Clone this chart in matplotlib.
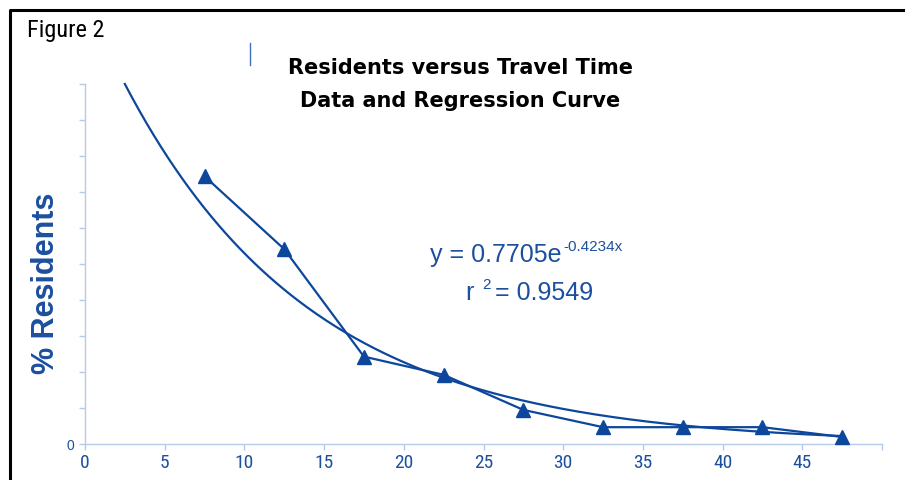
import numpy as np
import matplotlib
matplotlib.use("Agg")
import matplotlib.pyplot as plt
from matplotlib.lines import Line2D
from matplotlib import font_manager

# ---- data ----
travel_time = [7.5, 12.5, 17.5, 22.5, 27.5, 32.5, 37.5, 42.5, 47.5]
residents = [0.573, 0.417, 0.187, 0.148, 0.073, 0.036, 0.036, 0.036, 0.015]
x_ticks = [0, 5, 10, 15, 20, 25, 30, 35, 40, 45, 50]
x_tick_labels = ["0", "5", "10", "15", "20", "25", "30", "35", "40", "45", ""]
# regression: y = A * exp(B * n), n = 5-minute interval index (0 at 2.5 min)
coef_a = 0.7705
coef_b = -0.4234
r_squared = 0.9549

BLUE = "#0d479c"
TEXT_BLUE = "#1c4f9f"
SPINE = "#b7cbe9"
ARIAL = ["Liberation Sans", "DejaVu Sans"]

# pick a narrow font if one is installed
_names = {f.name for f in font_manager.fontManager.ttflist}
_narrow = None
for cand in ["Liberation Sans Narrow", "Arial Narrow", "Roboto Condensed",
             "Open Sans Condensed", "Noto Sans Condensed", "DejaVu Sans Condensed"]:
    if cand in _names:
        _narrow = cand
        break
if _narrow is None:
    _cond = [f.name for f in font_manager.fontManager.ttflist
             if str(f.stretch) in ("condensed", "semi-condensed", "extra-condensed")
             or (isinstance(f.stretch, int) and f.stretch < 500)]
    NARROW_KW = dict(family=(_cond[0] if _cond else "Liberation Sans"),
                     fontstretch="condensed")
else:
    NARROW_KW = dict(family=_narrow)

W, H = 905, 480
fig = plt.figure(figsize=(W / 100, H / 100), dpi=100)
fig.patch.set_facecolor("white")

ax = fig.add_axes([85 / W, 36 / H, (882 - 85) / W, 360 / H])
ymax = coef_a
ax.set_xlim(0, 50)
ax.set_ylim(0, ymax)

# regression curve
xc = np.linspace(2.5, 47.5, 300)
yc = coef_a * np.exp(coef_b * (xc - 2.5) / 5.0)
ax.plot(xc, yc, color=BLUE, lw=1.6, zorder=2, clip_on=False)

# data
ax.plot(travel_time, residents, color=BLUE, lw=1.6, marker="^", markersize=10,
        markeredgecolor=BLUE, markerfacecolor=BLUE, zorder=3, clip_on=False)

for s in ["top", "right"]:
    ax.spines[s].set_visible(False)
for s in ["left", "bottom"]:
    ax.spines[s].set_color(SPINE)
    ax.spines[s].set_linewidth(1.0)

ax.set_xticks(x_ticks)
ax.set_xticklabels(x_tick_labels, fontsize=14, color=TEXT_BLUE, **NARROW_KW)
yt = np.linspace(0, ymax, 11)
ax.set_yticks(yt)
ax.set_yticklabels(["0"] + [""] * 10, family=ARIAL, fontsize=10, color=TEXT_BLUE)
ax.tick_params(axis="x", direction="out", length=4, width=1, color=SPINE, pad=3.5)
ax.tick_params(axis="y", direction="out", length=4, width=1, color=SPINE, pad=4)

# border (top and left)
fig.add_artist(Line2D([10 / W, 10 / W, 1.0], [0, 1 - 10 / H, 1 - 10 / H],
                      transform=fig.transFigure, color="black", lw=2.2))
# stray small vertical line
fig.add_artist(Line2D([249.5 / W, 249.5 / W], [1 - 43 / H, 1 - 65 / H],
                      transform=fig.transFigure, color="#3f6fc0", lw=1.0))

# texts
fig.text(27 / W, 1 - 37 / H, "Figure 2", fontsize=17.5,
         color="black", va="baseline", ha="left", **NARROW_KW)
fig.text(460 / W, 1 - 74 / H, "Residents versus Travel Time", fontsize=15,
         fontweight="bold", family=["DejaVu Sans"], ha="center", va="baseline")
fig.text(460 / W, 1 - 107 / H, "Data and Regression Curve", fontsize=15,
         fontweight="bold", family=["DejaVu Sans"], ha="center", va="baseline")

fig.text(46 / W, 1 - 283 / H, "% Residents", rotation=90, fontsize=22,
         fontweight="bold", family=ARIAL, color=TEXT_BLUE, ha="center", va="center")

fig.text(430 / W, 1 - 262 / H, "y = %.4fe" % coef_a, family=ARIAL, fontsize=18,
         color=TEXT_BLUE, ha="left", va="baseline")
fig.text(563 / W, 1 - 251 / H, "%.4fx" % coef_b, family=ARIAL, fontsize=11,
         color=TEXT_BLUE, ha="left", va="baseline")
fig.text(465 / W, 1 - 300 / H, "r", family=ARIAL, fontsize=18,
         color=TEXT_BLUE, ha="left", va="baseline")
fig.text(482 / W, 1 - 289 / H, "2", family=ARIAL, fontsize=11,
         color=TEXT_BLUE, ha="left", va="baseline")
fig.text(495 / W, 1 - 300 / H, "= %.4f" % r_squared, family=ARIAL, fontsize=18,
         color=TEXT_BLUE, ha="left", va="baseline")

fig.savefig("out.png", dpi=100)
